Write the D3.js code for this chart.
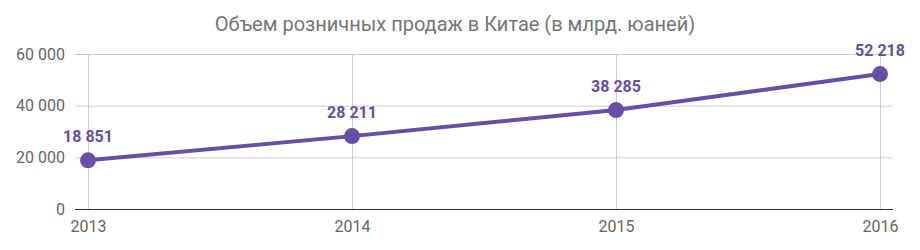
<!DOCTYPE html>
<html><head><meta charset="utf-8">
<script src="https://cdn.jsdelivr.net/npm/d3@7"></script>
<style>body{margin:0;background:#fff;}svg{display:block;font-family:Roboto,sans-serif;}</style>
</head><body>
<svg id="c" width="920" height="250"></svg>
<script>
const title = "Объем розничных продаж в Китае (в млрд. юаней)";
const years = ["2013", "2014", "2015", "2016"];
const values = [18851, 28211, 38285, 52218];
const yTicks = [0, 20000, 40000, 60000];

const svg = d3.select("#c");
const pLeft = 75, pRight = 893, pTop = 54, pBottom = 209;
const x = d3.scalePoint().domain(years).range([pLeft, pRight]).padding(13 / 264);
const y = d3.scaleLinear().domain([0, 60000]).range([pBottom, pTop]);
const fmt = v => d3.format(",")(v).replace(/,/g, " ");
const color = "#674ea7";

svg.append("text").attr("x", 455).attr("y", 31).attr("text-anchor", "middle")
  .attr("font-size", 20).attr("fill", "#757575").text(title);

const yAxis = d3.axisLeft(y).tickValues(yTicks).tickSize(-(pRight - pLeft)).tickFormat(fmt).tickPadding(10);
const gy = svg.append("g").attr("transform", `translate(${pLeft},0)`).call(yAxis);
gy.select(".domain").remove();
gy.selectAll(".tick line").attr("stroke", "#cccccc");
gy.selectAll(".tick text").attr("font-size", 16).attr("fill", "#666666").attr("font-family", "Roboto,sans-serif");

const xAxis = d3.axisBottom(x).tickSize(-(pBottom - pTop)).tickPadding(12);
const gx = svg.append("g").attr("transform", `translate(0,${pBottom})`).call(xAxis);
gx.select(".domain").remove();
gx.selectAll(".tick line").attr("stroke", "#cccccc");
gx.selectAll(".tick text").attr("font-size", 16).attr("fill", "#666666").attr("font-family", "Roboto,sans-serif");

svg.append("line").attr("x1", pLeft).attr("x2", pRight).attr("y1", pBottom + 0.5).attr("y2", pBottom + 0.5)
  .attr("stroke", "#333333").attr("stroke-width", 1.2);

const pts = years.map((yr, i) => ({ yr, v: values[i] }));
svg.append("path").datum(pts)
  .attr("d", d3.line().x(d => x(d.yr)).y(d => y(d.v)))
  .attr("fill", "none").attr("stroke", color).attr("stroke-width", 4);

svg.selectAll("circle.pt").data(pts).join("circle").attr("class", "pt")
  .attr("cx", d => x(d.yr)).attr("cy", d => y(d.v)).attr("r", 8).attr("fill", color);

svg.selectAll("text.lbl").data(pts).join("text").attr("class", "lbl")
  .attr("x", d => x(d.yr)).attr("y", d => y(d.v) - 18).attr("text-anchor", "middle")
  .attr("font-size", 16).attr("font-weight", "bold").attr("fill", color).text(d => fmt(d.v));
</script>
</body></html>
